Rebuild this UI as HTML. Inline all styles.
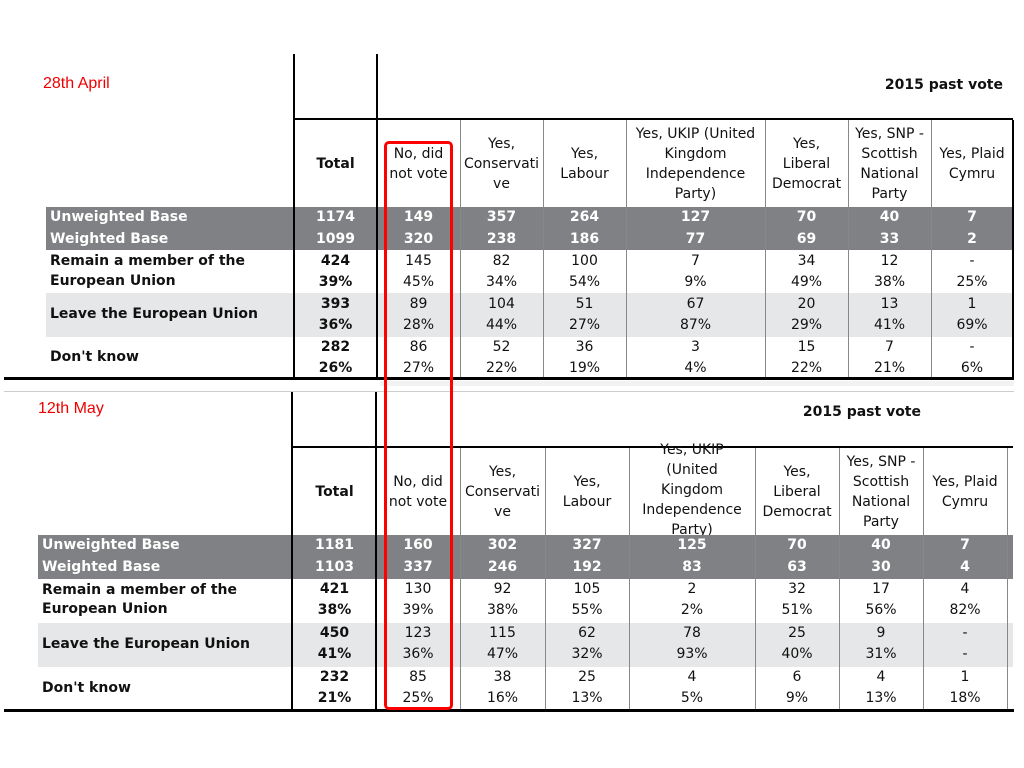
<!DOCTYPE html>
<html><head><meta charset="utf-8"><style>
body{margin:0;width:1024px;height:768px;background:#fff;position:relative;overflow:hidden;font-family:"DejaVu Sans","Liberation Sans",sans-serif;font-size:14px;color:#111}
div{position:absolute}
.k{background:#000}
.g{background:#888}
.c{text-align:center;line-height:20px;height:20px}
.b{font-weight:bold}
.w{color:#fff;font-weight:bold}
.h{display:flex;align-items:center;justify-content:center;text-align:center;line-height:20px}
.red{color:#e00;font-family:"Liberation Sans",sans-serif;font-size:16px}
</style></head><body>

<!-- TABLE 1 -->
<div style="left:46px;top:207px;width:967px;height:43px;background:#808184"></div>
<div style="left:46px;top:293px;width:967px;height:44px;background:#e6e7e8"></div>
<div class="k" style="left:293px;top:54px;width:2px;height:325px"></div>
<div class="k" style="left:376px;top:54px;width:2px;height:325px"></div>
<div class="k" style="left:293px;top:118px;width:720px;height:2px"></div>
<div class="g" style="left:460px;top:120px;width:1px;height:258px"></div>
<div class="g" style="left:543px;top:120px;width:1px;height:258px"></div>
<div class="g" style="left:626px;top:120px;width:1px;height:258px"></div>
<div class="g" style="left:765px;top:120px;width:1px;height:258px"></div>
<div class="g" style="left:848px;top:120px;width:1px;height:258px"></div>
<div class="g" style="left:931px;top:120px;width:1px;height:258px"></div>
<div class="k" style="left:1012px;top:120px;width:2px;height:258px"></div>
<div class="k" style="left:4px;top:377px;width:1010px;height:3px"></div>
<div style="left:380px;top:381px;width:634px;height:5px;background:#f2f2f2"></div>

<div class="red" style="left:43px;top:75px">28th April</div>
<div class="b" style="left:800px;top:77px;width:203px;text-align:right">2015 past vote</div>

<div class="h b" style="left:294px;top:120px;width:83px;height:87px">Total</div>
<div class="h" style="left:377px;top:120px;width:83px;height:87px">No, did<br>not vote</div>
<div class="h" style="left:460px;top:120px;width:83px;height:87px">Yes,<br>Conservati<br>ve</div>
<div class="h" style="left:543px;top:120px;width:83px;height:87px">Yes,<br>Labour</div>
<div class="h" style="left:626px;top:120px;width:139px;height:87px">Yes, UKIP (United<br>Kingdom<br>Independence<br>Party)</div>
<div class="h" style="left:765px;top:120px;width:83px;height:87px">Yes,<br>Liberal<br>Democrat</div>
<div class="h" style="left:848px;top:120px;width:83px;height:87px">Yes, SNP -<br>Scottish<br>National<br>Party</div>
<div class="h" style="left:931px;top:120px;width:82px;height:87px">Yes, Plaid<br>Cymru</div>

<div class="c w" style="left:50px;top:207px">Unweighted Base</div>
<div class="c w" style="left:50px;top:229px">Weighted Base</div>
<div class="c b" style="left:50px;top:251px">Remain a member of the</div>
<div class="c b" style="left:50px;top:271px">European Union</div>
<div class="c b" style="left:50px;top:304px">Leave the European Union</div>
<div class="c b" style="left:50px;top:347px">Don't know</div>

<!-- rows t1: columns left/width -->
<div class="c w" style="left:294px;top:207px;width:83px">1174</div>
<div class="c w" style="left:377px;top:207px;width:83px">149</div>
<div class="c w" style="left:460px;top:207px;width:83px">357</div>
<div class="c w" style="left:543px;top:207px;width:83px">264</div>
<div class="c w" style="left:626px;top:207px;width:139px">127</div>
<div class="c w" style="left:765px;top:207px;width:83px">70</div>
<div class="c w" style="left:848px;top:207px;width:83px">40</div>
<div class="c w" style="left:931px;top:207px;width:82px">7</div>

<div class="c w" style="left:294px;top:229px;width:83px">1099</div>
<div class="c w" style="left:377px;top:229px;width:83px">320</div>
<div class="c w" style="left:460px;top:229px;width:83px">238</div>
<div class="c w" style="left:543px;top:229px;width:83px">186</div>
<div class="c w" style="left:626px;top:229px;width:139px">77</div>
<div class="c w" style="left:765px;top:229px;width:83px">69</div>
<div class="c w" style="left:848px;top:229px;width:83px">33</div>
<div class="c w" style="left:931px;top:229px;width:82px">2</div>

<div class="c b" style="left:294px;top:251px;width:83px">424</div>
<div class="c" style="left:377px;top:251px;width:83px">145</div>
<div class="c" style="left:460px;top:251px;width:83px">82</div>
<div class="c" style="left:543px;top:251px;width:83px">100</div>
<div class="c" style="left:626px;top:251px;width:139px">7</div>
<div class="c" style="left:765px;top:251px;width:83px">34</div>
<div class="c" style="left:848px;top:251px;width:83px">12</div>
<div class="c" style="left:931px;top:251px;width:82px">-</div>

<div class="c b" style="left:294px;top:272px;width:83px">39%</div>
<div class="c" style="left:377px;top:272px;width:83px">45%</div>
<div class="c" style="left:460px;top:272px;width:83px">34%</div>
<div class="c" style="left:543px;top:272px;width:83px">54%</div>
<div class="c" style="left:626px;top:272px;width:139px">9%</div>
<div class="c" style="left:765px;top:272px;width:83px">49%</div>
<div class="c" style="left:848px;top:272px;width:83px">38%</div>
<div class="c" style="left:931px;top:272px;width:82px">25%</div>

<div class="c b" style="left:294px;top:294px;width:83px">393</div>
<div class="c" style="left:377px;top:294px;width:83px">89</div>
<div class="c" style="left:460px;top:294px;width:83px">104</div>
<div class="c" style="left:543px;top:294px;width:83px">51</div>
<div class="c" style="left:626px;top:294px;width:139px">67</div>
<div class="c" style="left:765px;top:294px;width:83px">20</div>
<div class="c" style="left:848px;top:294px;width:83px">13</div>
<div class="c" style="left:931px;top:294px;width:82px">1</div>

<div class="c b" style="left:294px;top:315px;width:83px">36%</div>
<div class="c" style="left:377px;top:315px;width:83px">28%</div>
<div class="c" style="left:460px;top:315px;width:83px">44%</div>
<div class="c" style="left:543px;top:315px;width:83px">27%</div>
<div class="c" style="left:626px;top:315px;width:139px">87%</div>
<div class="c" style="left:765px;top:315px;width:83px">29%</div>
<div class="c" style="left:848px;top:315px;width:83px">41%</div>
<div class="c" style="left:931px;top:315px;width:82px">69%</div>

<div class="c b" style="left:294px;top:337px;width:83px">282</div>
<div class="c" style="left:377px;top:337px;width:83px">86</div>
<div class="c" style="left:460px;top:337px;width:83px">52</div>
<div class="c" style="left:543px;top:337px;width:83px">36</div>
<div class="c" style="left:626px;top:337px;width:139px">3</div>
<div class="c" style="left:765px;top:337px;width:83px">15</div>
<div class="c" style="left:848px;top:337px;width:83px">7</div>
<div class="c" style="left:931px;top:337px;width:82px">-</div>

<div class="c b" style="left:294px;top:358px;width:83px">26%</div>
<div class="c" style="left:377px;top:358px;width:83px">27%</div>
<div class="c" style="left:460px;top:358px;width:83px">22%</div>
<div class="c" style="left:543px;top:358px;width:83px">19%</div>
<div class="c" style="left:626px;top:358px;width:139px">4%</div>
<div class="c" style="left:765px;top:358px;width:83px">22%</div>
<div class="c" style="left:848px;top:358px;width:83px">21%</div>
<div class="c" style="left:931px;top:358px;width:82px">6%</div>

<!-- TABLE 2 -->
<div style="left:4px;top:391px;width:1010px;height:1px;background:#ccc"></div>
<div style="left:38px;top:535px;width:975px;height:44px;background:#808184"></div>
<div style="left:38px;top:623px;width:975px;height:44px;background:#e6e7e8"></div>
<div class="k" style="left:291px;top:392px;width:2px;height:318px"></div>
<div class="k" style="left:375px;top:392px;width:2px;height:318px"></div>
<div class="k" style="left:291px;top:446px;width:722px;height:2px"></div>
<div class="g" style="left:460px;top:448px;width:1px;height:261px"></div>
<div class="g" style="left:545px;top:448px;width:1px;height:261px"></div>
<div class="g" style="left:629px;top:448px;width:1px;height:261px"></div>
<div class="g" style="left:755px;top:448px;width:1px;height:261px"></div>
<div class="g" style="left:839px;top:448px;width:1px;height:261px"></div>
<div class="g" style="left:923px;top:448px;width:1px;height:261px"></div>
<div class="g" style="left:1007px;top:448px;width:1px;height:261px"></div>
<div class="k" style="left:4px;top:709px;width:1010px;height:3px"></div>

<div class="red" style="left:38px;top:400px">12th May</div>
<div class="b" style="left:720px;top:404px;width:201px;text-align:right">2015 past vote</div>

<div class="h b" style="left:293px;top:448px;width:83px;height:87px">Total</div>
<div class="h" style="left:376px;top:448px;width:84px;height:87px">No, did<br>not vote</div>
<div class="h" style="left:460px;top:448px;width:85px;height:87px">Yes,<br>Conservati<br>ve</div>
<div class="h" style="left:545px;top:448px;width:84px;height:87px">Yes,<br>Labour</div>
<div class="h" style="left:629px;top:440px;width:126px;height:95px;overflow:hidden;align-items:flex-start"><div style="position:static;margin-top:0">Yes, UKIP<br>(United<br>Kingdom<br>Independence<br>Party)</div></div>
<div class="h" style="left:755px;top:448px;width:84px;height:87px">Yes,<br>Liberal<br>Democrat</div>
<div class="h" style="left:839px;top:448px;width:84px;height:87px">Yes, SNP -<br>Scottish<br>National<br>Party</div>
<div class="h" style="left:923px;top:448px;width:84px;height:87px">Yes, Plaid<br>Cymru</div>

<div class="c w" style="left:42px;top:535px">Unweighted Base</div>
<div class="c w" style="left:42px;top:557px">Weighted Base</div>
<div class="c b" style="left:42px;top:580px">Remain a member of the</div>
<div class="c b" style="left:42px;top:599px">European Union</div>
<div class="c b" style="left:42px;top:634px">Leave the European Union</div>
<div class="c b" style="left:42px;top:678px">Don't know</div>

<div class="c w" style="left:293px;top:535px;width:83px">1181</div>
<div class="c w" style="left:376px;top:535px;width:84px">160</div>
<div class="c w" style="left:460px;top:535px;width:85px">302</div>
<div class="c w" style="left:545px;top:535px;width:84px">327</div>
<div class="c w" style="left:629px;top:535px;width:126px">125</div>
<div class="c w" style="left:755px;top:535px;width:84px">70</div>
<div class="c w" style="left:839px;top:535px;width:84px">40</div>
<div class="c w" style="left:923px;top:535px;width:84px">7</div>

<div class="c w" style="left:293px;top:557px;width:83px">1103</div>
<div class="c w" style="left:376px;top:557px;width:84px">337</div>
<div class="c w" style="left:460px;top:557px;width:85px">246</div>
<div class="c w" style="left:545px;top:557px;width:84px">192</div>
<div class="c w" style="left:629px;top:557px;width:126px">83</div>
<div class="c w" style="left:755px;top:557px;width:84px">63</div>
<div class="c w" style="left:839px;top:557px;width:84px">30</div>
<div class="c w" style="left:923px;top:557px;width:84px">4</div>

<div class="c b" style="left:293px;top:579px;width:83px">421</div>
<div class="c" style="left:376px;top:579px;width:84px">130</div>
<div class="c" style="left:460px;top:579px;width:85px">92</div>
<div class="c" style="left:545px;top:579px;width:84px">105</div>
<div class="c" style="left:629px;top:579px;width:126px">2</div>
<div class="c" style="left:755px;top:579px;width:84px">32</div>
<div class="c" style="left:839px;top:579px;width:84px">17</div>
<div class="c" style="left:923px;top:579px;width:84px">4</div>

<div class="c b" style="left:293px;top:600px;width:83px">38%</div>
<div class="c" style="left:376px;top:600px;width:84px">39%</div>
<div class="c" style="left:460px;top:600px;width:85px">38%</div>
<div class="c" style="left:545px;top:600px;width:84px">55%</div>
<div class="c" style="left:629px;top:600px;width:126px">2%</div>
<div class="c" style="left:755px;top:600px;width:84px">51%</div>
<div class="c" style="left:839px;top:600px;width:84px">56%</div>
<div class="c" style="left:923px;top:600px;width:84px">82%</div>

<div class="c b" style="left:293px;top:623px;width:83px">450</div>
<div class="c" style="left:376px;top:623px;width:84px">123</div>
<div class="c" style="left:460px;top:623px;width:85px">115</div>
<div class="c" style="left:545px;top:623px;width:84px">62</div>
<div class="c" style="left:629px;top:623px;width:126px">78</div>
<div class="c" style="left:755px;top:623px;width:84px">25</div>
<div class="c" style="left:839px;top:623px;width:84px">9</div>
<div class="c" style="left:923px;top:623px;width:84px">-</div>

<div class="c b" style="left:293px;top:644px;width:83px">41%</div>
<div class="c" style="left:376px;top:644px;width:84px">36%</div>
<div class="c" style="left:460px;top:644px;width:85px">47%</div>
<div class="c" style="left:545px;top:644px;width:84px">32%</div>
<div class="c" style="left:629px;top:644px;width:126px">93%</div>
<div class="c" style="left:755px;top:644px;width:84px">40%</div>
<div class="c" style="left:839px;top:644px;width:84px">31%</div>
<div class="c" style="left:923px;top:644px;width:84px">-</div>

<div class="c b" style="left:293px;top:667px;width:83px">232</div>
<div class="c" style="left:376px;top:667px;width:84px">85</div>
<div class="c" style="left:460px;top:667px;width:85px">38</div>
<div class="c" style="left:545px;top:667px;width:84px">25</div>
<div class="c" style="left:629px;top:667px;width:126px">4</div>
<div class="c" style="left:755px;top:667px;width:84px">6</div>
<div class="c" style="left:839px;top:667px;width:84px">4</div>
<div class="c" style="left:923px;top:667px;width:84px">1</div>

<div class="c b" style="left:293px;top:688px;width:83px">21%</div>
<div class="c" style="left:376px;top:688px;width:84px">25%</div>
<div class="c" style="left:460px;top:688px;width:85px">16%</div>
<div class="c" style="left:545px;top:688px;width:84px">13%</div>
<div class="c" style="left:629px;top:688px;width:126px">5%</div>
<div class="c" style="left:755px;top:688px;width:84px">9%</div>
<div class="c" style="left:839px;top:688px;width:84px">13%</div>
<div class="c" style="left:923px;top:688px;width:84px">18%</div>

<!-- red highlight box -->
<div style="left:384px;top:141px;width:63px;height:563px;border:3px solid #f00;border-radius:5px"></div>
</body></html>
